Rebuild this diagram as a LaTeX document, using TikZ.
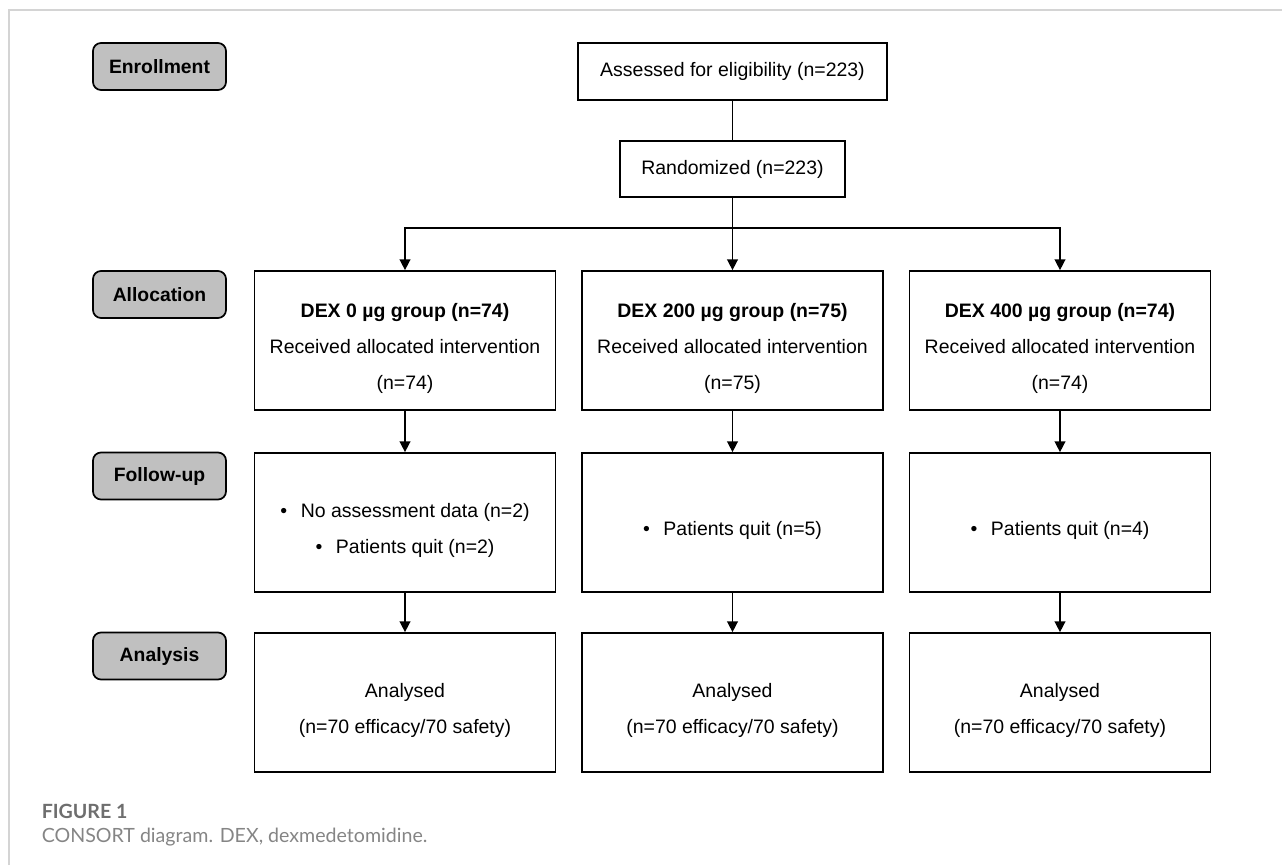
\documentclass[tikz,border=0pt]{standalone}
\usepackage{fontspec}
\setmainfont{Liberation Sans}
\newfontfamily\capfont{Lato}
\usetikzlibrary{arrows.meta}
\definecolor{stagegray}{HTML}{C0C0C0}
\definecolor{framegray}{HTML}{D4D4D4}
\definecolor{capgray}{HTML}{6E6E6E}
\definecolor{capgraylight}{HTML}{858585}
\newcommand{\lowstrut}{\rule{0pt}{22.5pt}}

\begin{document}
\begin{tikzpicture}[x=0.75pt,y=-0.75pt,
  stage/.style={draw=black,line width=1.3pt,rounded corners=6pt,fill=stagegray,minimum width=99.75pt,minimum height=35.25pt,inner sep=0pt,font=\fontsize{14.5}{17}\selectfont\bfseries},
  topbox/.style={draw=black,line width=1.3pt,inner sep=0pt,font=\fontsize{14.6}{27}\selectfont},
  grp/.style={topbox,minimum width=225.75pt,minimum height=104.25pt,align=center},
  flow/.style={line width=1.1pt,-{Triangle[length=8pt,width=8pt]}},
  captext/.style={anchor=base west,inner sep=0pt,text=capgray}]
\useasboundingbox (0,0) rectangle (1282,865);
\draw[framegray,line width=1.2pt] (9,865) -- (9,10) -- (1282,10);

\node[stage] (enroll) at (159.5,66.5) {Enrollment};
\node[stage] (alloc) at (159.5,294.5) {Allocation};
\node[stage] (follow) at (159.5,476) {Follow-up};
\node[stage] (anal) at (159.5,656) {Analysis};

\node[topbox,minimum width=231.75pt,minimum height=42.75pt] (assess) at (732.5,71.5) {Assessed for eligibility (n=223)};
\node[topbox,minimum width=168.75pt,minimum height=42pt] (random) at (732.5,169) {Randomized (n=223)};
\coordinate (bus) at (732.5,228);

\node[grp] (a1) at (405,340.5) {\lowstrut\textbf{DEX 0 µg group (n=74)}\\Received allocated intervention\\(n=74)};
\node[grp] (a2) at (732.5,340.5) {\lowstrut\textbf{DEX 200 µg group (n=75)}\\Received allocated intervention\\(n=75)};
\node[grp] (a3) at (1060,340.5) {\lowstrut\textbf{DEX 400 µg group (n=74)}\\Received allocated intervention\\(n=74)};

\node[grp] (f1) at (405,522.5) {\lowstrut•\hspace{0.7em}No assessment data (n=2)\\•\hspace{0.7em}Patients quit (n=2)};
\node[grp] (f2) at (732.5,522.5) {\lowstrut•\hspace{0.7em}Patients quit (n=5)};
\node[grp] (f3) at (1060,522.5) {\lowstrut•\hspace{0.7em}Patients quit (n=4)};

\node[grp] (n1) at (405,702.5) {\lowstrut Analysed\\(n=70 efficacy/70 safety)};
\node[grp] (n2) at (732.5,702.5) {\lowstrut Analysed\\(n=70 efficacy/70 safety)};
\node[grp] (n3) at (1060,702.5) {\lowstrut Analysed\\(n=70 efficacy/70 safety)};

\draw[line width=1.1pt] (assess) -- (random);
\draw[flow] (random) -- (a2);
\draw[flow] (bus) -| (a1);
\draw[flow] (bus) -| (a3);
\foreach \i in {1,2,3} {
  \draw[flow] (a\i) -- (f\i);
  \draw[flow] (f\i) -- (n\i);
}

\node[captext,font=\capfont\bfseries\fontsize{14.7}{17}\selectfont] (figlabel) at (41.5,818) {FIGURE 1};
\node[captext,text=capgraylight,font=\capfont\fontsize{14.7}{17}\selectfont] (caption) at (41.5,842) {CONSORT diagram. DEX, dexmedetomidine.};
\end{tikzpicture}
\end{document}
